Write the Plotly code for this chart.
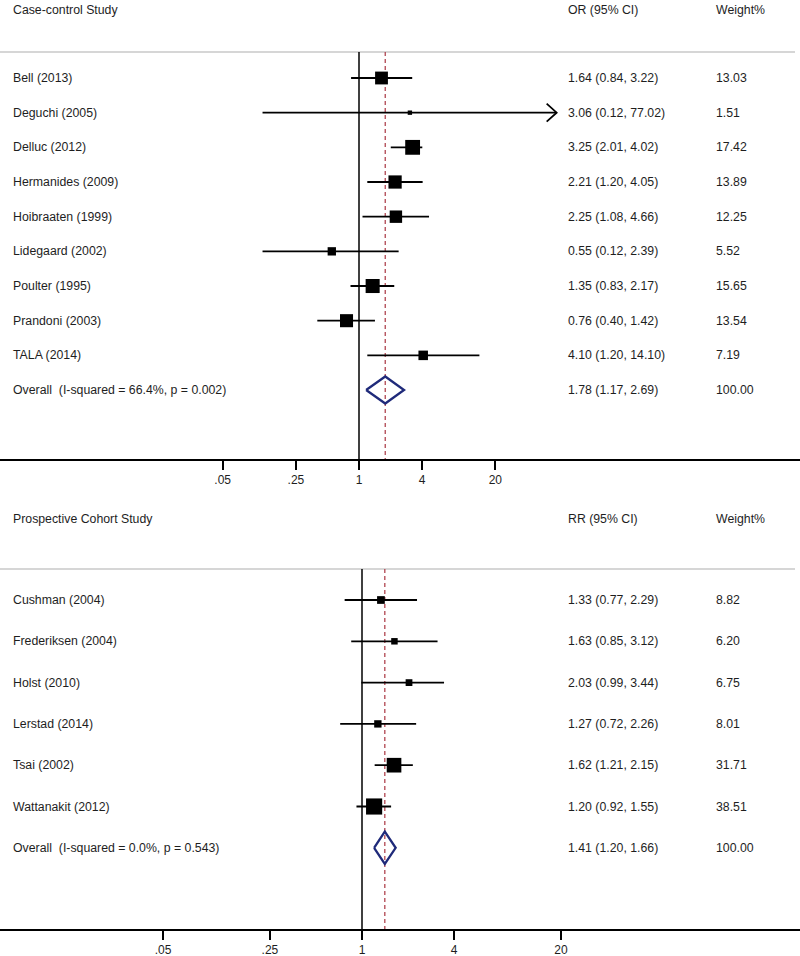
import numpy as np
import plotly.graph_objects as go

# ---------------- data ----------------
cc_names = ["Bell (2013)", "Deguchi (2005)", "Delluc (2012)", "Hermanides (2009)",
            "Hoibraaten (1999)", "Lidegaard (2002)", "Poulter (1995)",
            "Prandoni (2003)", "TALA (2014)"]
cc_est = [1.64, 3.06, 3.25, 2.21, 2.25, 0.55, 1.35, 0.76, 4.10]
cc_lo = [0.84, 0.12, 2.01, 1.20, 1.08, 0.12, 0.83, 0.40, 1.20]
cc_hi = [3.22, 77.02, 4.02, 4.05, 4.66, 2.39, 2.17, 1.42, 14.10]
cc_w = [13.03, 1.51, 17.42, 13.89, 12.25, 5.52, 15.65, 13.54, 7.19]
cc_overall = [1.78, 1.17, 2.69]
cc_i2, cc_p = 66.4, 0.002

pc_names = ["Cushman (2004)", "Frederiksen (2004)", "Holst (2010)",
            "Lerstad (2014)", "Tsai (2002)", "Wattanakit (2012)"]
pc_est = [1.33, 1.63, 2.03, 1.27, 1.62, 1.20]
pc_lo = [0.77, 0.85, 0.99, 0.72, 1.21, 0.92]
pc_hi = [2.29, 3.12, 3.44, 2.26, 2.15, 1.55]
pc_w = [8.82, 6.20, 6.75, 8.01, 31.71, 38.51]
pc_overall = [1.41, 1.20, 1.66]
pc_i2, pc_p = 0.0, 0.543

tick_vals = [0.05, 0.25, 1, 4, 20]
tick_text = [".05", ".25", "1", "4", "20"]

# ---------------- style ----------------
W, H = 800, 956
FONT = "Arial, Liberation Sans, sans-serif"
FS = 12.3
TXT = "#1e1e1e"
NAVY = "#1f2a7a"
DASH_RED = "#b04550"
TICK_PX = 9

fig = go.Figure()
annotations = []
shapes = []


def panel(names, est, lo, hi, w, overall, i2, p, title, eff_label,
          xa, ya, px_per_ln, box_k, row_px, axis_bottom, axis_paper):
    n = len(names)
    # CI lines
    xs, ys = [], []
    for i in range(n):
        xs += [lo[i], hi[i], None]
        ys += [i, i, None]
    fig.add_trace(go.Scatter(x=xs, y=ys, mode="lines", xaxis=xa, yaxis=ya,
                             line=dict(color="black", width=1.8),
                             hoverinfo="skip", showlegend=False))
    # arrows when CI goes past the last tick
    ax_x, ax_y = [], []
    for i in range(n):
        if hi[i] > max(tick_vals):
            back = hi[i] / np.exp(10 / px_per_ln)
            dy = 9 / row_px
            ax_x += [back, hi[i], back, None]
            ax_y += [i - dy, i, i + dy, None]
    if ax_x:
        fig.add_trace(go.Scatter(x=ax_x, y=ax_y, mode="lines", xaxis=xa, yaxis=ya,
                                 line=dict(color="black", width=1.8),
                                 hoverinfo="skip", showlegend=False))
    # boxes
    fig.add_trace(go.Scatter(x=est, y=list(range(n)), mode="markers", xaxis=xa, yaxis=ya,
                             opacity=1,
                             marker=dict(symbol="square", color="#000000", opacity=1,
                                         size=[box_k * np.sqrt(v) for v in w],
                                         line=dict(width=0)),
                             hoverinfo="skip", showlegend=False))
    # overall diamond
    o_est, o_lo, o_hi = overall
    h = 0.39
    fig.add_trace(go.Scatter(x=[o_lo, o_est, o_hi, o_est, o_lo],
                             y=[n, n - h, n, n + h, n], mode="lines",
                             xaxis=xa, yaxis=ya,
                             line=dict(color=NAVY, width=2.3),
                             hoverinfo="skip", showlegend=False))
    # tick marks hanging below the axis line, as a line trace at the tick values
    tx, ty = [], []
    for tv in tick_vals:
        tx += [tv, tv, None]
        ty += [axis_bottom, axis_bottom + TICK_PX / row_px, None]
    fig.add_trace(go.Scatter(x=tx, y=ty, mode="lines", xaxis=xa, yaxis=ya,
                             cliponaxis=False,
                             line=dict(color="black", width=2),
                             hoverinfo="skip", showlegend=False))
    # reference line at 1 and dashed overall line
    shapes.append(dict(type="line", xref=xa, yref=ya, x0=1, x1=1,
                       y0=-0.75, y1=axis_bottom, layer="below",
                       line=dict(color="black", width=1.5)))
    shapes.append(dict(type="line", xref=xa, yref=ya, x0=o_est, x1=o_est,
                       y0=-0.75, y1=axis_bottom, layer="below",
                       line=dict(color=DASH_RED, width=1.3, dash="4px,3px")))
    # grey separator
    shapes.append(dict(type="line", xref="paper", yref=ya, x0=0, x1=795 / W,
                       y0=-0.75, y1=-0.75, layer="below",
                       line=dict(color="#c8c8c8", width=1.6)))

    def txt(x_px, y, s):
        annotations.append(dict(x=x_px / W, y=y, xref="paper", yref=ya, text=s,
                                showarrow=False, xanchor="left", yanchor="middle",
                                font=dict(family=FONT, size=FS, color=TXT)))

    txt(11, -1.96, title)
    txt(566, -1.96, eff_label)
    txt(714, -1.96, "Weight%")
    for i in range(n):
        txt(11, i, names[i])
        txt(566, i, f"{est[i]:.2f} ({lo[i]:.2f}, {hi[i]:.2f})")
        txt(714, i, f"{w[i]:.2f}")
    txt(11, n, f"Overall\u00a0 (I-squared = {i2:.1f}%, p = {p:.3f})")
    txt(566, n, f"{o_est:.2f} ({o_lo:.2f}, {o_hi:.2f})")
    txt(714, n, "100.00")


# axes geometry (pixel mapping)
top_row0, top_step = 78, 34.67
top_axis_px = 459
bot_row0, bot_step = 600, 41.3
bot_top_px, bot_axis_px = 500, 929

top_ppl, top_one = 45.5, 359
bot_ppl, bot_one = 66.4, 362


def xrange(ppl, one):
    per_dec = ppl * np.log(10)
    return [-one / per_dec, (W - one) / per_dec]


top_yr = [(top_axis_px - top_row0) / top_step, (0 - top_row0) / top_step]
bot_yr = [(bot_axis_px - bot_row0) / bot_step, (bot_top_px - bot_row0) / bot_step]

axis_common = dict(type="log", tickvals=tick_vals, ticktext=tick_text,
                   ticks="outside", ticklen=TICK_PX, tickwidth=2, tickcolor="#000000",
                   showline=True, linecolor="black", linewidth=1.6,
                   showgrid=False, zeroline=False, automargin=False,
                   tickfont=dict(family=FONT, size=12, color=TXT),
                   domain=[0, 1], fixedrange=True)

fig.update_layout(
    width=W, height=H,
    margin=dict(l=0, r=0, t=0, b=0, pad=0),
    paper_bgcolor="white", plot_bgcolor="white",
    template="none",
    showlegend=False,
    xaxis=dict(**axis_common, range=xrange(top_ppl, top_one), anchor="y"),
    yaxis=dict(domain=[1 - top_axis_px / H, 1], range=top_yr,
               visible=False, fixedrange=True, anchor="x"),
    xaxis2=dict(**axis_common, range=xrange(bot_ppl, bot_one), anchor="y2"),
    yaxis2=dict(domain=[1 - bot_axis_px / H, 1 - bot_top_px / H], range=bot_yr,
                visible=False, fixedrange=True, anchor="x2"),
)

panel(cc_names, cc_est, cc_lo, cc_hi, cc_w, cc_overall, cc_i2, cc_p,
      "Case-control Study", "OR (95% CI)", "x", "y", top_ppl, 3.55, top_step,
      top_yr[0], 1 - top_axis_px / H)
panel(pc_names, pc_est, pc_lo, pc_hi, pc_w, pc_overall, pc_i2, pc_p,
      "Prospective Cohort Study", "RR (95% CI)", "x2", "y2", bot_ppl, 2.6, bot_step,
      bot_yr[0], 1 - bot_axis_px / H)

fig.update_layout(shapes=shapes, annotations=annotations)
fig.write_html(
    "out.html",
    config={"displayModeBar": False},
    post_script="document.body.style.margin='0px';"
                "document.documentElement.style.overflow='hidden';"
                "document.body.style.overflow='hidden';",
)
